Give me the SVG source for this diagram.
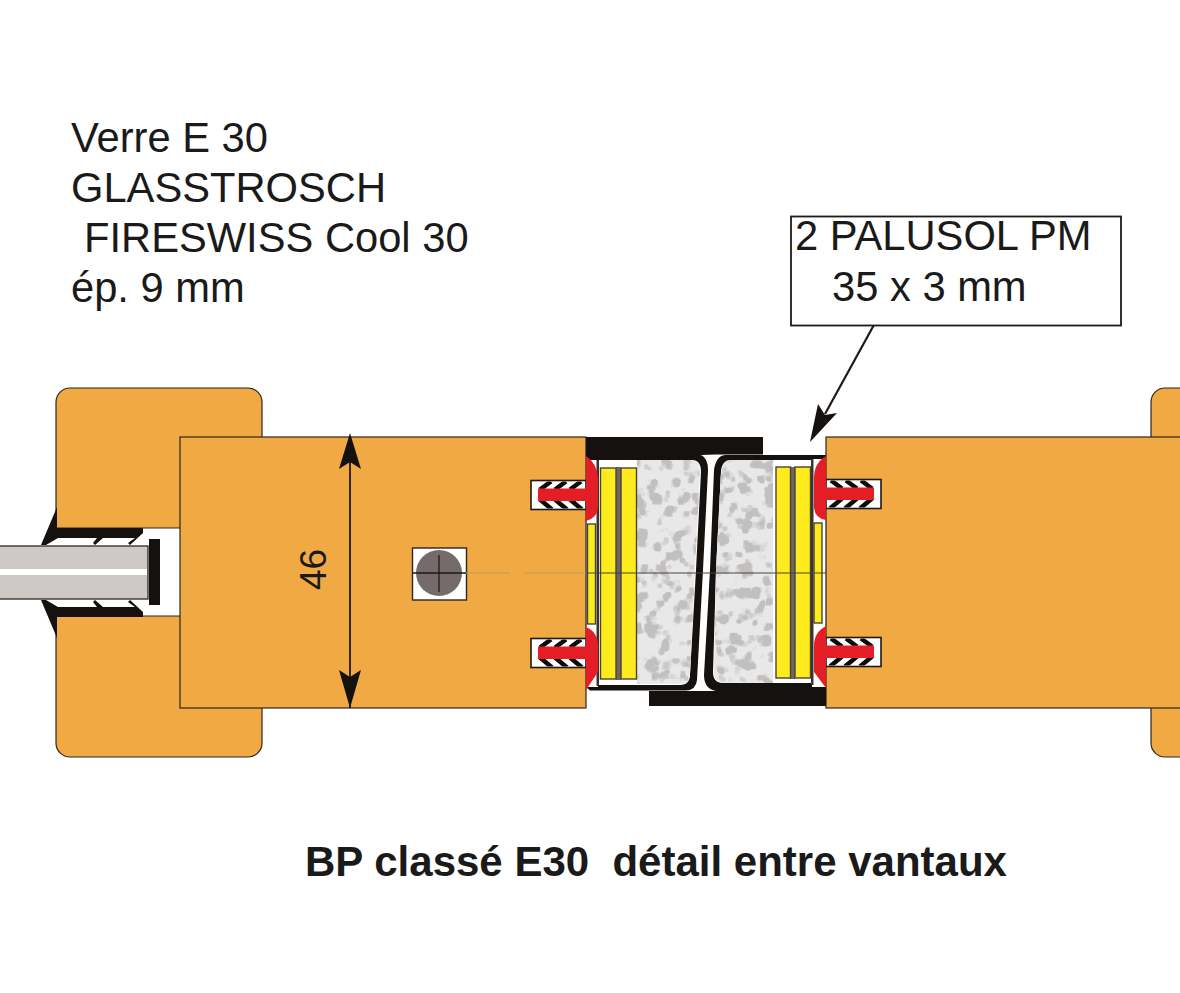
<svg xmlns="http://www.w3.org/2000/svg" width="1180" height="993" viewBox="0 0 1180 993">
<style>
.wood{fill:#f1a943;stroke:#2b2622;stroke-width:1.2}
.blk{fill:#15110e}
.yel{fill:#fdeb1e;stroke:#4a4238;stroke-width:1.4}
.gapl{fill:#6f675f}
.red{fill:#e31e26}
.t{font-family:"Liberation Sans",Arial,sans-serif;font-size:41.700px;fill:#1a1a1a}
.n{font-family:"Liberation Sans",Arial,sans-serif;font-size:37px;fill:#1a1a1a}
.b{font-family:"Liberation Sans",Arial,sans-serif;font-size:42px;font-weight:bold;fill:#1a1a1a}
.hat{stroke:#0d0b0a;stroke-width:4.500;fill:none}
</style>
<defs>
<filter id="mottle" x="0" y="0" width="100%" height="100%" color-interpolation-filters="sRGB">
<feTurbulence type="fractalNoise" baseFrequency="0.085" numOctaves="3" seed="11" result="n"/>
<feColorMatrix in="n" type="matrix" values="0 0 0 0 0.76  0 0 0 0 0.75  0 0 0 0 0.75  6 6 0 0 -6.600" result="m"/>
<feMorphology in="m" operator="dilate" radius="1" result="d"/>
<feComposite in="d" in2="SourceGraphic" operator="in" result="c"/>
<feMerge><feMergeNode in="SourceGraphic"/><feMergeNode in="c"/></feMerge>
</filter>
<clipPath id="slotclip"><rect x="-54" y="1" width="53" height="27"/></clipPath>
<g id="anchor">
<rect x="-55" y="0" width="55" height="29" fill="#fff" stroke="#1d1a17" stroke-width="1.600"/>
<g clip-path="url(#slotclip)">
<path class="hat" d="M-46,9 L-35,1 M-31,9 L-20,1 M-16,9 L-5,1 M-46,19 L-34,29 M-31,19 L-19,29 M-16,19 L-4,29"/>
</g>
<rect class="red" x="-48" y="8" width="48" height="12.500"/>
</g>
</defs>

<g id="frame-left">
<rect class="wood" x="56" y="388" width="206" height="369" rx="14"/>
<rect x="30" y="528" width="150" height="88" fill="#fff"/>
<path d="M56.500,528 H180 M56.500,616 H180" stroke="#2b2622" stroke-width="1.200" fill="none"/>
</g>
<g id="frame-right">
<rect class="wood" x="1151" y="388" width="60" height="369" rx="14"/>
</g>

<g id="glass-rod">
<path id="seal" class="blk" d="M57,507 L41,545 L46,545 L58,538 H97 L93,543 L95,545 L103,538 H135 L128,543 L130,545 L143,533 V528 H57 Z"/>
<path class="blk" d="M57,638 L41,600 L46,600 L58,607 H97 L93,602 L95,600 L103,607 H135 L128,602 L130,600 L143,612 V617 H57 Z"/>
<rect x="-3" y="546" width="151" height="53" fill="#cec8c6" stroke="#3a3532" stroke-width="1.400"/>
<rect x="0" y="569" width="147" height="6" fill="#fff"/>
<rect class="blk" x="149" y="539" width="11" height="66"/>
</g>

<g id="leaf-left">
<rect class="wood" x="180" y="437" width="406" height="271"/>
</g>
<g id="leaf-right">
<rect class="wood" x="826" y="437" width="380" height="271"/>
</g>

<g id="profile-left">
<path class="blk" d="M586,437 H763 V454.500 H716 L701,455 Q708,458 708,470 L703,570 L697,680 Q696,690 686,690.500 H590 L586,687 Z"/>
<path d="M598,460 H692 Q701,460 701,472 L696,570 L690,674 Q690,685 680,685 H598 Z" fill="#fff"/>
<path d="M637,460 H691 Q700,461 700,472 L695,570 L690,674 Q690,684 680,684 H637 Z" fill="#e9e8e8" filter="url(#mottle)"/>
<rect class="gapl" x="616" y="467" width="5" height="213"/>
<rect class="yel" x="600.500" y="468" width="15.500" height="211"/>
<rect class="yel" x="621" y="468" width="15.500" height="211"/>
</g>

<g id="profile-right">
<path class="blk" d="M826,455 H725 Q716,456 714,470 L710,570 L704,675 Q704,689 716,691 H649 V706 H826 Z"/>
<path d="M812,460 H731 Q722,460 721,472 L716,570 L713,672 Q713,683 723,683 H812 Z" fill="#fff"/>
<path d="M773,460 H731 Q722,460 721,472 L716,570 L714,672 Q714,683 723,683 H773 Z" fill="#e9e8e8" filter="url(#mottle)"/>
<rect class="gapl" x="790" y="467" width="5" height="212"/>
<rect class="yel" x="776" y="467" width="14.500" height="211"/>
<rect class="yel" x="795" y="467" width="15.500" height="211"/>
</g>

<g id="palusol-left">
<rect x="586.600" y="460" width="11.400" height="227" fill="#fff"/>
<rect x="596.500" y="460" width="2.500" height="226" fill="#3a342e"/>
<rect class="yel" x="587.500" y="524" width="8" height="100"/>
</g>
<g id="palusol-right">
<rect x="812" y="459" width="13.400" height="228" fill="#fff"/>
<rect x="811" y="459" width="2.500" height="226" fill="#3a342e"/>
<rect class="yel" x="814" y="523" width="8" height="100"/>
</g>

<g id="anchors">
<use href="#anchor" transform="translate(586,480.500)"/>
<use href="#anchor" transform="translate(586,638.500)"/>
<use href="#anchor" transform="translate(826,479.500) scale(-1,1)"/>
<use href="#anchor" transform="translate(826,637.500) scale(-1,1)"/>
<path class="red" d="M586,456 Q597,463 598,478 V506 Q598,518 586,521 Z"/>
<path class="red" d="M586,627 Q598,632 598,646 V672 L586,690 Z"/>
<path class="red" d="M826,456 Q814,463 814,478 V506 Q814,518 826,520 Z"/>
<path class="red" d="M826,626 Q814,632 814,646 V672 L826,688 Z"/>
</g>

<g id="screw">
<rect x="412.500" y="548" width="54" height="52" fill="#fff" stroke="#2b2622" stroke-width="1.400"/>
<circle cx="439" cy="573" r="23" fill="#766b6b"/>
<path d="M412.500,573 H466 M439,555 V592" stroke="#1d1a17" stroke-width="1.300" fill="none"/>
</g>

<g id="connectors">
<path d="M466,573 H510 M524,573 H586" stroke="#c09a5c" stroke-width="1" fill="none"/>
<path d="M586,573 H826" stroke="#4a4238" stroke-width="1" fill="none"/>
<path d="M350,437 V708" stroke="#1d1a17" stroke-width="1.800" fill="none"/>
<polygon class="blk" points="350,433 361,469 350,462 339,469"/>
<polygon class="blk" points="350,708 339,670 350,677 361,670"/>
<path d="M875,323 L825,414" stroke="#1d1a17" stroke-width="2.200" fill="none"/>
<polygon class="blk" points="810,442 818,404 825,415 837,413"/>
</g>

<g id="callout">
<rect x="791" y="216.500" width="330" height="109" fill="#fff" stroke="#1d1a17" stroke-width="1.800"/>
<text class="t" x="795" y="250">2 PALUSOL PM</text>
<text class="t" x="832" y="301">35 x 3 mm</text>
</g>

<g id="labels">
<text class="t" x="71" y="152">Verre E 30</text>
<text class="t" x="71" y="202">GLASSTROSCH</text>
<text class="t" x="84" y="252">FIRESWISS Cool 30</text>
<text class="t" x="71" y="302">ép. 9 mm</text>
<text class="n" transform="translate(326,590) rotate(-90)">46</text>
<text class="b" x="305" y="875.500" xml:space="preserve">BP classé E30  détail entre vantaux</text>
</g>
</svg>
